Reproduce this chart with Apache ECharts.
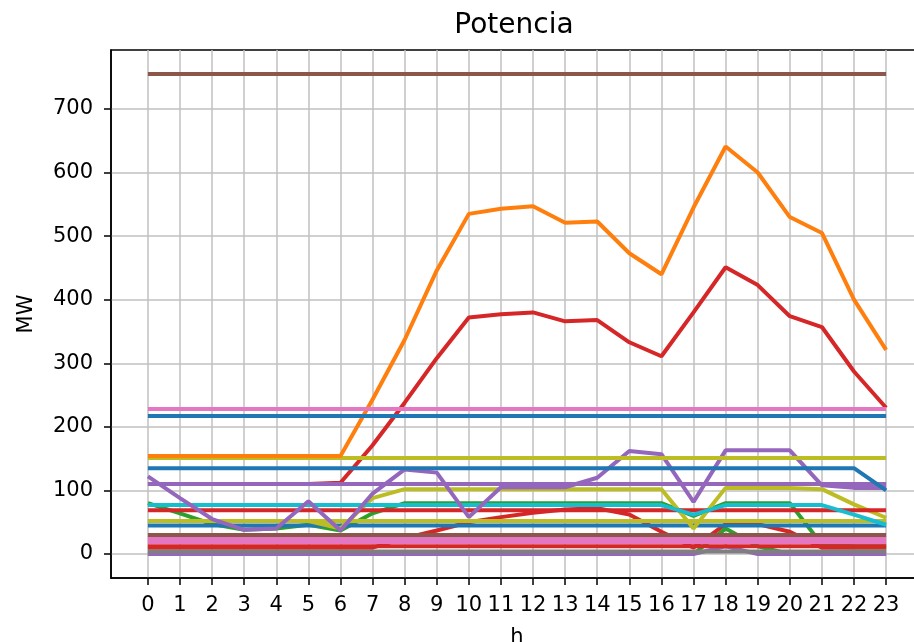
<!DOCTYPE html>
<html>
<head>
<meta charset="utf-8">
<title>Potencia</title>
<script src="https://cdn.jsdelivr.net/npm/echarts@6/dist/echarts.min.js"></script>
<style>
  html, body { margin: 0; padding: 0; background: #fff; }
  #main { width: 914px; height: 642px; }
</style>
</head>
<body>
<div id="main"></div>
<script>
// horas del dia
var hours = [0,1,2,3,4,5,6,7,8,9,10,11,12,13,14,15,16,17,18,19,20,21,22,23];
var xTicks = [0,1,2,3,4,5,6,7,8,9,10,11,12,13,14,15,16,17,18,19,20,21,22,23];
var yTicks = [0,100,200,300,400,500,600,700];

// potencias en MW
var brownTop   = [755,755,755,755,755,755,755,755,755,755,755,755,755,755,755,755,755,755,755,755,755,755,755,755];
var pinkTop    = [228,228,228,228,228,228,228,228,228,228,228,228,228,228,228,228,228,228,228,228,228,228,228,228];
var blueTop    = [217,217,217,217,217,217,217,217,217,217,217,217,217,217,217,217,217,217,217,217,217,217,217,217];
var oliveTop   = [151,151,151,151,151,151,151,151,151,151,151,151,151,151,151,151,151,151,151,151,151,151,151,151];
var blueMid    = [135,135,135,135,135,135,135,135,135,135,135,135,135,135,135,135,135,135,135,135,135,135,135,100];
var purpleFix  = [110,110,110,110,110,110,110,110,110,110,110,110,110,110,110,110,110,110,110,110,110,110,110,110];
var redFix     = [69,69,69,69,69,69,69,69,69,69,69,69,69,69,69,69,69,69,69,69,69,69,69,69];
var oliveLow   = [52,52,52,52,52,52,52,52,52,52,52,52,52,52,52,52,52,52,52,52,52,52,52,52];
var blueLow    = [45,45,45,45,45,45,45,45,45,45,45,45,45,45,45,45,45,45,45,45,45,45,45,45];
var brownLow   = [30,30,30,30,30,30,30,30,30,30,30,30,30,30,30,30,30,30,30,30,30,30,30,30];
var pinkA      = [25,25,25,25,25,25,25,25,25,25,25,25,25,25,25,25,25,25,25,25,25,25,25,25];
var pinkB      = [19,19,19,19,19,19,19,19,19,19,19,19,19,19,19,19,19,19,19,19,19,19,19,19];
var redLow     = [12,12,12,12,12,12,12,12,12,12,12,12,12,12,12,12,12,12,12,12,12,12,12,12];
var grayLow    = [4,4,4,4,4,4,4,4,4,4,4,4,4,4,4,4,4,4,4,4,4,4,4,4];

var orangeVar  = [154,154,154,154,154,154,154,243,337,446,535,543,547,521,523,473,440,545,641,600,530,505,400,321];
var redVar     = [110,110,110,110,110,110,112,171,238,308,372,377,380,366,368,333,311,380,451,423,374,357,287,230];
var purpleVar  = [122,88,55,38,40,83,37,95,133,128,58,105,105,105,120,162,157,82,163,163,163,108,104,104];
var cyanVar    = [77,77,77,77,77,77,77,77,77,77,77,77,77,77,77,77,77,62,77,77,77,77,62,46];
var greenVar   = [80,64,47,38,40,46,37,64,80,80,80,80,80,80,80,80,80,60,80,80,80,15,12,12];
var oliveVar   = [52,52,52,52,52,52,40,88,102,102,102,102,102,102,102,102,102,40,104,104,104,102,78,57];
var redVar2    = [10,10,10,10,10,10,10,10,25,37,50,58,65,70,72,62,35,10,47,47,35,10,10,10];
var greenLow   = [0,0,0,0,0,0,0,0,0,0,0,0,0,0,0,0,0,0,40,12,0,0,0,0];
var purpleLow  = [0,0,0,0,0,0,0,0,0,0,0,0,0,0,0,0,0,0,12,0,0,0,0,0];

// orden de dibujo: primero lo de abajo
var lines = [
  [redVar2, '#d62728'],
  [greenLow, '#2ca02c'],
  [purpleLow, '#9467bd'],
  [grayLow, '#7f7f7f'],
  [greenVar, '#2ca02c'],
  [redLow, '#d62728'],
  [pinkB, '#e377c2'],
  [pinkA, '#e377c2'],
  [brownLow, '#8c564b'],
  [blueLow, '#1f77b4'],
  [oliveVar, '#bcbd22'],
  [oliveLow, '#bcbd22'],
  [redFix, '#d62728'],
  [cyanVar, '#17becf'],
  [purpleVar, '#9467bd'],
  [redVar, '#d62728'],
  [purpleFix, '#9467bd'],
  [blueMid, '#1f77b4'],
  [oliveTop, '#bcbd22'],
  [orangeVar, '#ff7f0e'],
  [blueTop, '#1f77b4'],
  [pinkTop, '#e377c2'],
  [brownTop, '#8c564b']
];

var series = [];
for (var i = 0; i < lines.length; i++) {
  var pts = [];
  for (var j = 0; j < hours.length; j++) {
    pts.push([hours[j], lines[i][0][j]]);
  }
  series.push({
    type: 'line',
    data: pts,
    showSymbol: false,
    symbol: 'none',
    lineStyle: { width: 4, color: lines[i][1] },
    itemStyle: { color: lines[i][1] }
  });
}

var font = 'DejaVu Sans';
var option = {
  backgroundColor: '#fff',
  animation: false,
  title: {
    text: 'Potencia',
    left: 509,
    top: 7,
    textAlign: 'center',
    textStyle: { fontFamily: font, fontSize: 28, fontWeight: 'normal', color: '#000' }
  },
  grid: {
    left: 111, top: 50, width: 812, height: 528,
    outerBoundsMode: 'none',
    containLabel: false,
    show: true, borderColor: '#000', borderWidth: 1.5, backgroundColor: 'transparent'
  },
  xAxis: {
    type: 'value',
    min: -1.15,
    max: 24.15,
    name: 'h',
    nameLocation: 'middle',
    nameGap: 49,
    nameTextStyle: { fontFamily: font, fontSize: 21, color: '#000' },
    axisLine: { show: true, onZero: false, lineStyle: { color: '#000', width: 1.5 } },
    axisTick: { show: true, length: 7, lineStyle: { color: '#000', width: 1.5 }, customValues: xTicks },
    axisLabel: { fontFamily: font, fontSize: 21, color: '#000', margin: 17, customValues: xTicks },
    splitLine: { show: true, lineStyle: { color: '#c0c0c0', width: 1.5 } }
  },
  yAxis: {
    type: 'value',
    min: -37.75,
    max: 792.75,
    name: 'MW',
    nameLocation: 'middle',
    nameGap: 74,
    nameTextStyle: { fontFamily: font, fontSize: 21, color: '#000' },
    axisLine: { show: true, onZero: false, lineStyle: { color: '#000', width: 1.5 } },
    axisTick: { show: true, length: 7, lineStyle: { color: '#000', width: 1.5 }, customValues: yTicks },
    axisLabel: { fontFamily: font, fontSize: 21, color: '#000', margin: 18, customValues: yTicks },
    splitLine: { show: true, lineStyle: { color: '#c0c0c0', width: 1.5 } }
  },
  series: series
};

var myChart = echarts.init(document.getElementById('main'));
myChart.setOption(option);
</script>
</body>
</html>
